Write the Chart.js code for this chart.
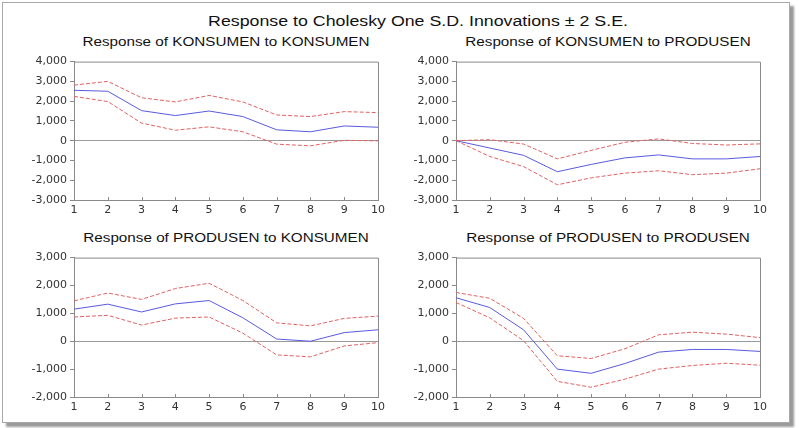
<!DOCTYPE html>
<html>
<head>
<meta charset="utf-8">
<script src="https://cdn.jsdelivr.net/npm/chart.js@4.4.1/dist/chart.umd.min.js"></script>
<style>
  html, body { margin: 0; padding: 0; background: #fff; }
  body { width: 799px; height: 428px; position: relative; overflow: hidden; font-family: "Liberation Sans", Arial, sans-serif; }
  #frame { position: absolute; left: 2px; top: 2px; width: 786px; height: 419px; border: 1px solid #a8a8a8; box-shadow: 4px 4px 2px #9a9a9a; background: #fff; }
  .ttl { position: absolute; white-space: nowrap; color: #111; transform: translate(-50%, -50%) scaleX(1.27); }
  #main { left: 418px; top: 21px; font-size: 14px; }
  .sub { font-size: 12px; }
  .box { position: absolute; }
</style>
</head>
<body>
<div id="frame"></div>
<div id="main" class="ttl">Response to Cholesky One S.D. Innovations ± 2 S.E.</div>
<div class="ttl sub" style="left:226px;top:42px">Response of KONSUMEN to KONSUMEN</div>
<div class="ttl sub" style="left:608px;top:42px">Response of KONSUMEN to PRODUSEN</div>
<div class="ttl sub" style="left:226px;top:238px">Response of PRODUSEN to KONSUMEN</div>
<div class="ttl sub" style="left:608px;top:238px">Response of PRODUSEN to PRODUSEN</div>

<div class="box" style="left:10px;top:52px"><canvas id="c1" width="380" height="164"></canvas></div>
<div class="box" style="left:392px;top:52px"><canvas id="c2" width="380" height="164"></canvas></div>
<div class="box" style="left:10px;top:248px"><canvas id="c3" width="380" height="165"></canvas></div>
<div class="box" style="left:392px;top:248px"><canvas id="c4" width="380" height="165"></canvas></div>

<script>
// Periods
const periods = ['1','2','3','4','5','6','7','8','9','10'];

// Response of KONSUMEN to KONSUMEN
const kkResp  = [2550, 2500, 1520, 1270, 1500, 1220, 550, 450, 745, 680];
const kkUpper = [2810, 3000, 2170, 1960, 2290, 1960, 1300, 1220, 1470, 1420];
const kkLower = [2240, 1980, 890, 530, 700, 450, -175, -260, 20, -10];

// Response of KONSUMEN to PRODUSEN
const kpResp  = [0, -370, -740, -1570, -1200, -870, -720, -920, -920, -800];
const kpUpper = [0, 50, -170, -920, -490, -80, 90, -140, -220, -160];
const kpLower = [0, -800, -1310, -2230, -1880, -1640, -1520, -1720, -1640, -1420];

// Response of PRODUSEN to KONSUMEN
const pkResp  = [1150, 1330, 1050, 1340, 1460, 840, 80, 0, 310, 410];
const pkUpper = [1450, 1730, 1500, 1890, 2080, 1460, 660, 550, 820, 900];
const pkLower = [870, 930, 580, 830, 870, 290, -490, -560, -170, -50];

// Response of PRODUSEN to PRODUSEN
const ppResp  = [1560, 1210, 410, -1000, -1150, -800, -390, -295, -295, -365];
const ppUpper = [1750, 1540, 820, -520, -620, -270, 230, 325, 255, 130];
const ppLower = [1390, 840, 20, -1440, -1650, -1360, -1000, -870, -790, -860];

// Axis ranges
const topRange = { min: -3000, max: 4000 };
const botRange = { min: -2000, max: 3000 };

const BLUE = '#5a5ae0';
const RED = '#e06262';
const AXIS = '#8a8a8a';

const frameBox = {
  id: 'frameBox',
  afterDraw(chart) {
    const { ctx, chartArea: a, scales } = chart;
    ctx.save();
    ctx.strokeStyle = AXIS;
    ctx.lineWidth = 1;
    ctx.beginPath();
    ctx.moveTo(a.left, a.top + 0.5);
    ctx.lineTo(a.right + 0.5, a.top + 0.5);
    ctx.lineTo(a.right + 0.5, a.bottom);
    ctx.stroke();
    // inward x ticks
    const xs = scales.x;
    ctx.beginPath();
    xs.ticks.forEach((t, i) => {
      const px = Math.round(xs.getPixelForTick(i)) + 0.5;
      ctx.moveTo(px, a.bottom);
      ctx.lineTo(px, a.bottom - 3);
    });
    ctx.stroke();
    ctx.restore();
  }
};

function makeChart(id, resp, upper, lower, range) {
  new Chart(document.getElementById(id), {
    type: 'line',
    data: {
      labels: periods,
      datasets: [
        { data: upper, borderColor: RED, borderWidth: 1, borderDash: [4, 2], pointRadius: 0, tension: 0, fill: false },
        { data: lower, borderColor: RED, borderWidth: 1, borderDash: [4, 2], pointRadius: 0, tension: 0, fill: false },
        { data: resp, borderColor: BLUE, borderWidth: 1, pointRadius: 0, tension: 0, fill: false }
      ]
    },
    options: {
      responsive: false,
      animation: false,
      devicePixelRatio: 1,
      layout: { padding: { top: 6, right: 12, left: 0, bottom: 0 } },
      plugins: { legend: { display: false }, tooltip: { enabled: false }, title: { display: false } },
      scales: {
        x: {
          type: 'category',
          offset: false,
          grid: { display: true, drawOnChartArea: false, drawTicks: false },
          border: { display: true, color: AXIS },
          ticks: { color: '#333', padding: 4, maxRotation: 0, autoSkip: false, font: { family: 'DejaVu Sans', size: 11 } },
          afterFit(s) { s.height = 16; }
        },
        y: {
          min: range.min, max: range.max,
          grid: {
            drawOnChartArea: true,
            color: c => (c.tick && c.tick.value === 0) ? '#9a9a9a' : 'rgba(0,0,0,0)',
            drawTicks: true, tickLength: 4, tickColor: AXIS
          },
          border: { display: true, color: AXIS },
          ticks: {
            stepSize: 1000, color: '#333', padding: 3,
            font: { family: 'DejaVu Sans', size: 11 },
            callback: v => v.toLocaleString('en-US')
          },
          afterFit(s) { s.width = 64; }
        }
      }
    },
    plugins: [frameBox]
  });
}

makeChart('c1', kkResp, kkUpper, kkLower, topRange);
makeChart('c2', kpResp, kpUpper, kpLower, topRange);
makeChart('c3', pkResp, pkUpper, pkLower, botRange);
makeChart('c4', ppResp, ppUpper, ppLower, botRange);
</script>
</body>
</html>
